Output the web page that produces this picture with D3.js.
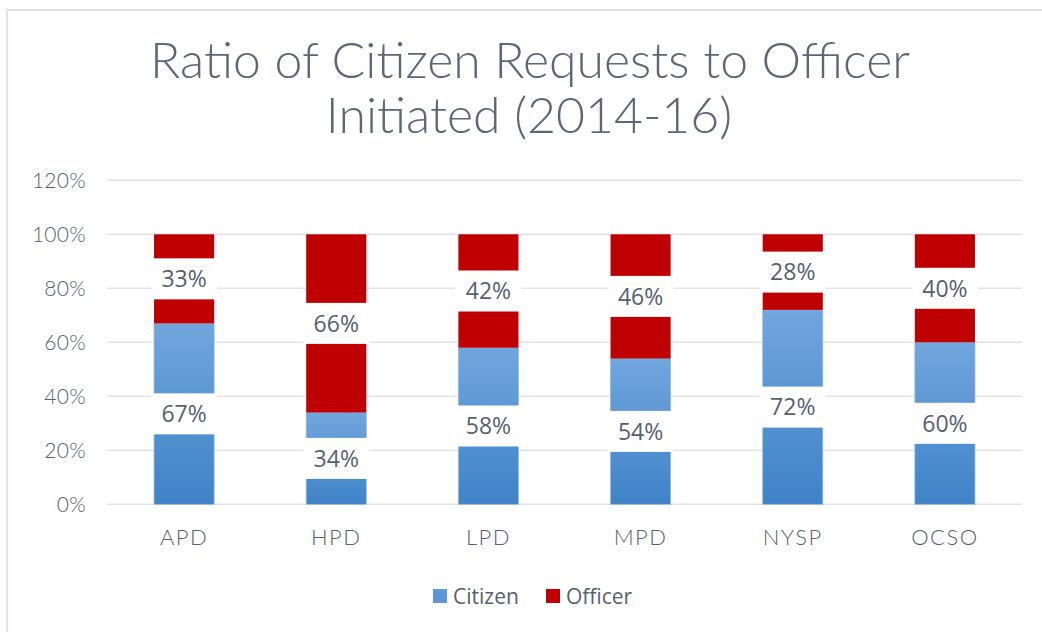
<!DOCTYPE html>
<html>
<head>
<meta charset="utf-8">
<script src="https://cdn.jsdelivr.net/npm/d3@7"></script>
<style>
  html, body { margin: 0; padding: 0; background: #fff; }
  svg { display: block; }
</style>
</head>
<body>
<svg id="chart" width="1042" height="632"></svg>
<script>
const categories = ["APD", "HPD", "LPD", "MPD", "NYSP", "OCSO"];
const citizenValues = [0.67, 0.34, 0.58, 0.54, 0.72, 0.60];
const officerValues = [0.33, 0.66, 0.42, 0.46, 0.28, 0.40];
const yTicks = [0, 0.2, 0.4, 0.6, 0.8, 1.0, 1.2];
const seriesNames = ["Citizen", "Officer"];
const titleLines = ["Ratio of Citizen Requests to Officer", "Initiated (2014-16)"];

const svg = d3.select("#chart");
const W = 1042, H = 632;
const textColor = "#566072";
const redColor = "#c00000";

// frame
svg.append("rect").attr("x", 7).attr("y", 10).attr("width", W).attr("height", H)
  .attr("fill", "#fff").attr("stroke", "#e1e3eb").attr("stroke-width", 2);

// gradient for citizen
const defs = svg.append("defs");
const grad = defs.append("linearGradient").attr("id", "blueGrad")
  .attr("x1", 0).attr("y1", 0).attr("x2", 0).attr("y2", 1);
grad.append("stop").attr("offset", "0%").attr("stop-color", "#71a6dd");
grad.append("stop").attr("offset", "100%").attr("stop-color", "#3e83c7");

// title
const titleG = svg.append("g");
const t1 = titleG.append("text").text(titleLines[0])
  .attr("x", 530).attr("y", 78).attr("text-anchor", "middle")
  .attr("font-family", "Lato").attr("font-weight", 300)
  .attr("font-size", 44).attr("fill", "#5d6779");
const w1 = t1.node().getComputedTextLength();
const fs = 44 * 760 / w1;
t1.attr("font-size", fs);
titleG.append("text").text(titleLines[1])
  .attr("x", 529).attr("y", 133).attr("text-anchor", "middle")
  .attr("font-family", "Lato").attr("font-weight", 300)
  .attr("font-size", fs).attr("fill", "#5d6779");

// scales
const x = d3.scaleBand().domain(categories).range([108, 1021]).paddingInner(0.605).paddingOuter(0.3025);
const y = d3.scaleLinear().domain([0, 1.2]).range([504.3, 180.3]);

// grid
svg.append("g").selectAll("line").data(yTicks).join("line")
  .attr("x1", 107).attr("x2", 1022)
  .attr("y1", d => y(d)).attr("y2", d => y(d))
  .attr("stroke", "#e3e3e3").attr("stroke-width", 1.5);

// y axis
const yAxis = d3.axisLeft(y).tickValues(yTicks).tickFormat(d3.format(".0%")).tickSize(0).tickPadding(0);
const yg = svg.append("g").attr("transform", "translate(86,0)").call(yAxis);
yg.select(".domain").remove();
yg.selectAll("text").attr("font-family", "Lato").attr("font-weight", 300)
  .attr("font-size", 21).attr("fill", textColor).attr("dy", "0.35em")
  .attr("letter-spacing", 0.3);

// x axis
const xAxis = d3.axisBottom(x).tickSize(0).tickPadding(0);
const xg = svg.append("g").attr("transform", "translate(0,545)").call(xAxis);
xg.select(".domain").remove();
xg.selectAll("text").attr("font-family", "Lato").attr("font-weight", 300)
  .attr("font-size", 22).attr("fill", textColor).attr("dy", 0)
  .attr("letter-spacing", 1.5);

// stacked data
const rows = categories.map((c, i) => ({ cat: c, Citizen: citizenValues[i], Officer: officerValues[i] }));
const stack = d3.stack().keys(seriesNames)(rows);
const fills = { Citizen: "url(#blueGrad)", Officer: redColor };

const layers = svg.append("g").selectAll("g").data(stack).join("g")
  .attr("fill", d => fills[d.key]);
layers.selectAll("rect").data(d => d).join("rect")
  .attr("x", d => x(d.data.cat))
  .attr("width", x.bandwidth())
  .attr("y", d => y(d[1]))
  .attr("height", d => y(d[0]) - y(d[1]))
  .attr("stroke", function() { return d3.select(this.parentNode).datum().key === "Citizen" ? "#8fbbe6" : "none"; })
  .attr("stroke-width", 0.8);

// labels
const labelG = svg.append("g");
stack.forEach(layer => {
  layer.forEach(d => {
    const cx = x(d.data.cat) + x.bandwidth() / 2;
    const cy = (y(d[0]) + y(d[1])) / 2;
    labelG.append("rect")
      .attr("x", cx - x.bandwidth() / 2 - 3).attr("width", x.bandwidth() + 6)
      .attr("y", cy - 20.5).attr("height", 41)
      .attr("fill", "#fff");
    labelG.append("text")
      .attr("x", cx).attr("y", cy).attr("dy", "0.36em")
      .attr("text-anchor", "middle")
      .attr("font-family", "Open Sans").attr("font-size", 23)
      .attr("fill", textColor)
      .text(d3.format(".0%")(d.data[layer.key]));
  });
});

// legend
const legend = svg.append("g");
const legendItems = [
  { name: seriesNames[0], color: "#5b97d6", sx: 433, tx: 453 },
  { name: seriesNames[1], color: redColor, sx: 546, tx: 566 }
];
legendItems.forEach(it => {
  legend.append("rect").attr("x", it.sx).attr("y", 589).attr("width", 14).attr("height", 14).attr("fill", it.color);
  legend.append("text").attr("x", it.tx).attr("y", 604)
    .attr("font-family", "Open Sans").attr("font-size", 21).attr("fill", textColor).text(it.name);
});
</script>
</body>
</html>
